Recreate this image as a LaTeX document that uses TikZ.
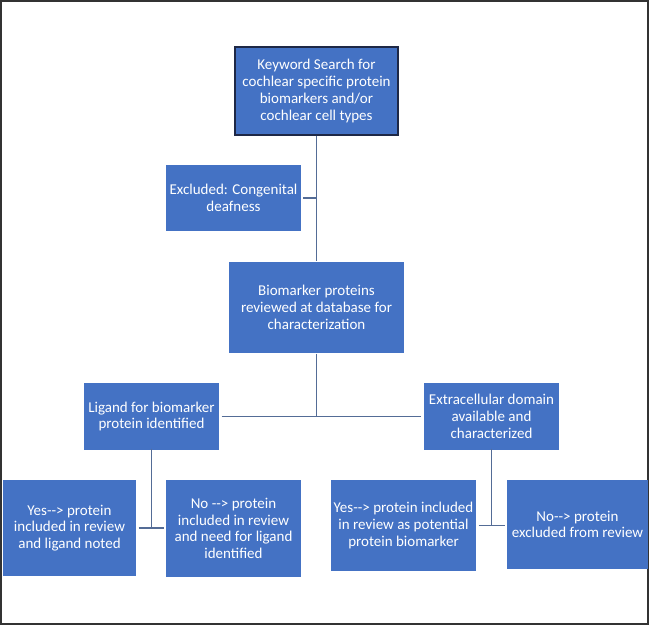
\documentclass[tikz,border=0pt]{standalone}
\usepackage{fontspec}
\setmainfont{Carlito}
\usepackage{tikz}
\usetikzlibrary{arrows.meta}
\definecolor{boxblue}{RGB}{68,114,196}
\definecolor{linkblue}{RGB}{84,108,150}
\definecolor{topedge}{RGB}{30,40,70}

\begin{document}
\begin{tikzpicture}[x=1pt, y=-1pt, line width=1.4pt,
    stepbox/.style={fill=boxblue, text=white, align=center, inner sep=1pt,
        font=\fontsize{15}{16.7}\selectfont},
    link/.style={draw=linkblue, line width=1.3pt}]
        % Frame
        \useasboundingbox (0,0) rectangle (649,625);
        \draw[draw=black!80, line width=1.6pt] (1,1) rectangle (648,624);

        % Boxes
        \node[stepbox, draw=topedge, line width=1.3pt, minimum width=163pt, minimum height=88pt] (search) at (316.5,91)
            {Keyword Search for\\cochlear specific protein\\biomarkers and/or\\cochlear cell types};
        \node[stepbox, minimum width=135pt, minimum height=66pt] (excluded) at (233.5,198)
            {Excluded: Congenital\\deafness};
        \node[stepbox, minimum width=175pt, minimum height=91pt] (review) at (316.5,307.5)
            {Biomarker proteins\\reviewed at database for\\characterization};
        \node[stepbox, minimum width=135pt, minimum height=67pt] (ligand) at (151.5,416.5)
            {Ligand for biomarker\\protein identified};
        \node[stepbox, minimum width=135pt, minimum height=67pt] (domain) at (491.5,416.5)
            {Extracellular domain\\available and\\characterized};
        \node[stepbox, minimum width=133pt, minimum height=96pt] (ligyes) at (69.5,528)
            {Yes-{}-{}> protein\\included in review\\and ligand noted};
        \node[stepbox, minimum width=135pt, minimum height=97pt] (ligno) at (233.5,528.5)
            {No -{}-{}> protein\\included in review\\and need for ligand\\identified};
        \node[stepbox, minimum width=145pt, minimum height=91pt] (domyes) at (403.5,525.5)
            {Yes-{}-{}> protein included\\in review as potential\\protein biomarker};
        \node[stepbox, minimum width=141pt, minimum height=89pt] (domno) at (577.5,524.5)
            {No-{}-{}> protein\\excluded from review};

        % Connectors
        \draw[link] (search.south) -- (review.north);
        \draw[link] ([xshift=1.5pt]excluded.east) -- (excluded.east -| search.south);
        \draw[link] (review.south) -- (review.south |- ligand.east);
        \draw[link] ([xshift=2pt]ligand.east) -- ([xshift=-2pt]domain.west);
        \draw[link] ([yshift=2pt]ligand.south) -- (ligand.south |- ligyes.east);
        \draw[link] ([xshift=2pt]ligyes.east) -- ([xshift=-1pt]ligno.west |- ligyes.east);
        \draw[link] ([yshift=2pt]domain.south) -- (domain.south |- domyes.east);
        \draw[link] ([xshift=2pt]domyes.east) -- ([xshift=-1pt]domno.west |- domyes.east);
    \end{tikzpicture}
\end{document}
